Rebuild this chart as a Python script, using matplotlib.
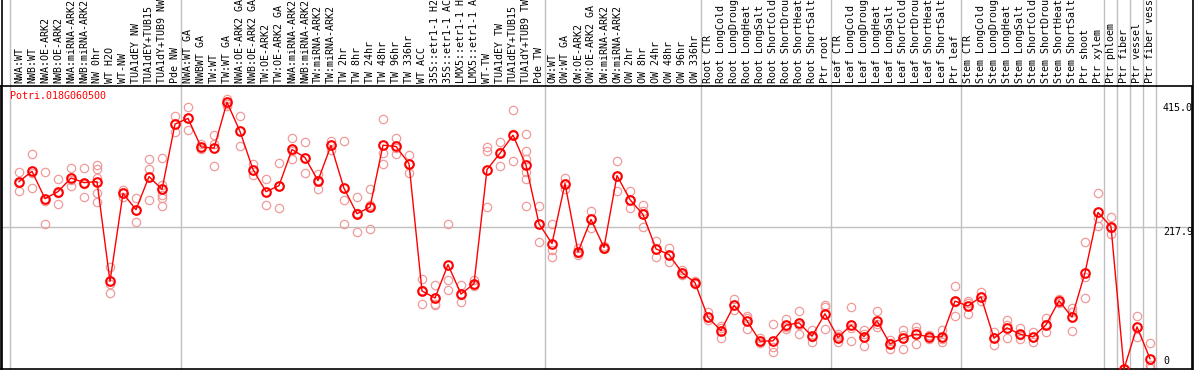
import numpy as np
import matplotlib.pyplot as plt
from matplotlib.lines import Line2D
from matplotlib.transforms import blended_transform_factory

gene = "Potri.018G060500"

labels = [
    "NWA:WT", "NWB:WT", "NWA:OE-ARK2", "NWB:OE-ARK2", "NWA:miRNA-ARK2",
    "NWB:miRNA-ARK2", "NW 0hr", "WT H2O", "WT-NW", "TUA1dEY NW",
    "TUA1dEY+TUB15", "TUA1dY+TUB9 NW", "Pde NW", "NWA:WT GA", "NWBWT GA",
    "TW:WT", "TW:WT GA", "NWA:OE-ARK2 GA", "NWB:OE-ARK2 GA", "TW:OE-ARK2",
    "TW:OE-ARK2 GA", "NWA:miRNA-ARK2", "NWB:miRNA-ARK2", "TW:miRNA-ARK2",
    "TW:miRNA-ARK2", "TW 2hr", "TW 8hr", "TW 24hr", "TW 48hr", "TW 96hr",
    "TW 336hr", "WT ACC", "35S::etr1-1 H2", "35S::etr1-1 AC", "LMX5::etr1-1 H",
    "LMX5::etr1-1 A", "WT-TW", "TUA1dEY TW", "TUA1dEY+TUB15", "TUA1dY+TUB9 TW",
    "Pde TW", "OW:WT", "OW:WT GA", "OW:OE-ARK2", "OW:OE-ARK2 GA",
    "OW:miRNA-ARK2", "OW:miRNA-ARK2", "OW 2hr", "OW 8hr", "OW 24hr",
    "OW 48hr", "OW 96hr", "OW 336hr", "Root CTR", "Root LongCold",
    "Root LongDroug", "Root LongHeat", "Root LongSalt", "Root ShortCold",
    "Root ShortDrou", "Root ShortHeat", "Root ShortSalt", "Ptr root",
    "Leaf CTR", "Leaf LongCold", "Leaf LongDroug", "Leaf LongHeat",
    "Leaf LongSalt", "Leaf ShortCold", "Leaf ShortDrou", "Leaf ShortHeat",
    "Leaf ShortSalt", "Ptr leaf", "Stem CTR", "Stem LongCold",
    "Stem LongDroug", "Stem LongHeat", "Stem LongSalt", "Stem ShortCold",
    "Stem ShortDrou", "Stem ShortHeat", "Stem ShortSalt", "Ptr shoot",
    "Ptr xylem", "Ptr phloem", "Ptr fiber", "Ptr vessel", "Ptr fiber vess",
]

means = [
    288.5, 304.4, 262.3, 273.1, 294.1, 287.0, 288.5, 134.9, 270.4, 245.3,
    296.3, 276.6, 377.1, 385.9, 342.0, 340.0, 410.6, 365.8, 307.1, 273.1,
    282.3, 338.0, 325.6, 290.1, 344.2, 278.2, 239.1, 249.3, 344.6, 342.6,
    316.3, 120.1, 109.3, 160.7, 115.4, 131.4, 307.1, 332.3, 360.1, 313.7,
    223.6, 193.2, 285.4, 180.3, 230.3, 187.0, 297.8, 260.7, 238.0, 185.0,
    176.2, 148.4, 132.9, 79.3, 59.2, 97.8, 74.2, 42.8, 43.3, 67.5,
    71.1, 50.5, 85.0, 48.4, 67.5, 49.9, 74.2, 38.6, 47.9, 53.6,
    49.5, 49.5, 104.6, 96.9, 111.3, 47.4, 63.4, 53.6, 49.5, 68.0,
    105.1, 79.9, 148.4, 241.1, 219.4, 0.0, 64.9, 15.9,
]

replicates = [
    [304.0, 287.0, 274.1], [331.8, 302.4, 279.2], [304.0, 258.6, 223.6],
    [293.1, 271.5, 254.5], [310.1, 290.6, 281.8], [310.1, 285.4, 265.3],
    [313.8, 307.6, 293.7, 271.5, 257.6], [157.1, 130.4, 117.5],
    [275.6, 270.5, 265.3], [263.8, 245.2, 226.7], [323.0, 307.6, 259.7],
    [325.6, 283.4, 276.7, 267.4, 262.8, 251.4], [389.0, 377.1, 364.2],
    [402.9, 386.4, 368.4], [346.2, 341.6, 338.5], [360.1, 347.2, 313.2],
    [415.0, 408.0, 404.4], [389.0, 365.8, 342.6], [315.3, 307.1, 298.8],
    [293.1, 273.1, 253.0], [317.9, 281.8, 247.3], [355.0, 335.9, 323.0],
    [348.8, 325.6, 302.4], [300.9, 291.6, 277.7], [350.3, 344.7, 337.4],
    [350.3, 260.2, 223.6], [265.3, 240.6, 211.2], [277.7, 251.9, 215.9],
    [384.8, 333.3, 315.3], [355.5, 340.5, 331.8], [330.2, 316.3, 302.4],
    [139.1, 121.1, 100.0], [129.3, 99.5, 99.0], [222.6, 137.1, 122.1],
    [129.3, 113.9, 103.1], [137.6, 129.3, 127.3], [342.1, 335.9, 248.8],
    [349.3, 334.4, 313.2], [398.2, 361.1, 321.0],
    [361.7, 335.9, 323.0, 303.4, 292.1, 251.4], [251.4, 223.6, 195.8],
    [223.6, 183.9, 172.6], [294.7, 285.4, 276.7], [186.5, 179.3, 175.2],
    [242.7, 230.8, 217.4], [189.1, 187.0, 185.0], [321.0, 297.8, 274.6],
    [273.6, 260.2, 248.3], [253.0, 243.2, 217.9], [196.8, 185.0, 172.6],
    [187.0, 176.2, 165.4], [153.0, 148.4, 145.3], [135.0, 132.9, 130.9],
    [87.1, 79.4, 74.7], [66.5, 62.9, 48.5], [107.7, 97.9, 91.2],
    [81.9, 78.8, 61.8], [47.4, 42.8, 39.7], [69.1, 34.6, 25.8],
    [76.3, 64.9, 61.3], [89.7, 68.5, 53.6], [60.3, 49.0, 42.3],
    [98.9, 94.8, 61.3], [53.6, 50.5, 41.2], [95.8, 63.4, 43.3],
    [60.3, 54.1, 35.6], [89.7, 69.1, 63.9], [44.8, 40.7, 30.4],
    [60.3, 52.6, 30.9], [63.9, 58.8, 38.2], [52.6, 49.5, 45.9],
    [60.3, 45.9, 42.3], [128.3, 103.6, 81.9], [105.1, 101.0, 84.5],
    [118.0, 111.3, 104.1], [56.7, 47.4, 37.1], [75.8, 67.0, 47.4],
    [62.9, 52.1, 45.9], [57.7, 49.5, 42.3], [78.3, 69.1, 56.7],
    [108.2, 105.1, 101.5], [93.8, 87.1, 58.8], [195.3, 141.2, 109.2],
    [271.5, 232.9, 220.0], [233.9, 216.4, 208.1], [0.0, 0.0, 0.0],
    [81.9, 63.9, 49.0], [39.7, 6.2, 2.1],
]

# last column of each group, a grey separator follows it
group_ends = [12, 40, 52, 62, 72, 83, 84, 85, 86, 87]

ymax_label = 415.0
ymid_label = 217.9

W, H = 1194, 370
fig = plt.figure(figsize=(W / 100, H / 100), dpi=100)
ax = fig.add_axes([1 / W, 1 / H, 1191 / W, 283 / H])

x = np.arange(len(labels))
ax.set_xlim((1 - 19) / 13, (1192 - 19) / 13)
ax.set_ylim(0, ymax_label * 1.05)
ax.set_xticks([])
ax.set_yticks([])
for s in ax.spines.values():
    s.set_color("black")
    s.set_linewidth(1.2)

grey = "#c0c0c0"
top_ext = 369 / 283
for xs in [-0.67] + [e + 0.43 for e in group_ends]:
    ax.axvline(xs, ymin=0, ymax=top_ext, color=grey, lw=1, clip_on=False, zorder=0)
ax.axhline(ymid_label, color=grey, lw=1, zorder=0)

# replicate points
for i, reps in enumerate(replicates):
    ax.plot([i] * len(reps), reps, "o", ms=6, mfc="none", mec="#f09a9a",
            mew=0.9, zorder=2)

# mean line
ax.plot(x, means, "-", color="red", lw=1.0, zorder=3)
ax.plot(x, means, "o", ms=6.2, mfc="none", mec="red", mew=1.5, zorder=4)

# column labels
tr = blended_transform_factory(ax.transData, ax.transAxes)
for i, lab in enumerate(labels):
    ax.text(i, (369 - 83) / 283, lab, transform=tr, rotation=90,
            ha="center", va="bottom", family="DejaVu Sans Mono",
            fontsize=7.2, color="black", clip_on=False)

ax.text(9 / 1191, (369 - 91) / 283, gene, transform=ax.transAxes,
        ha="left", va="top", family="DejaVu Sans Mono", fontsize=7.2,
        color="red")

# value labels on the right
rx = (1163 - 1) / 1191
for val, txt, va, off in [(ymax_label, "415.0", "top", -4),
                          (ymid_label, "217.9", "top", 0),
                          (0, "0", "bottom", 3)]:
    ax.annotate(txt, (rx, val), xycoords=("axes fraction", "data"),
                xytext=(0, off), textcoords="offset pixels", ha="left",
                va=va, family="DejaVu Sans Mono", fontsize=7.2,
                color="black", annotation_clip=False)

# outer frame lines through the label area
fig.add_artist(Line2D([1.5 / W, 1.5 / W], [0, 1], color="black", lw=1.2))
fig.add_artist(Line2D([1192.5 / W, 1192.5 / W], [0, 1], color="black", lw=1.2))

fig.savefig("out.png", dpi=100)
